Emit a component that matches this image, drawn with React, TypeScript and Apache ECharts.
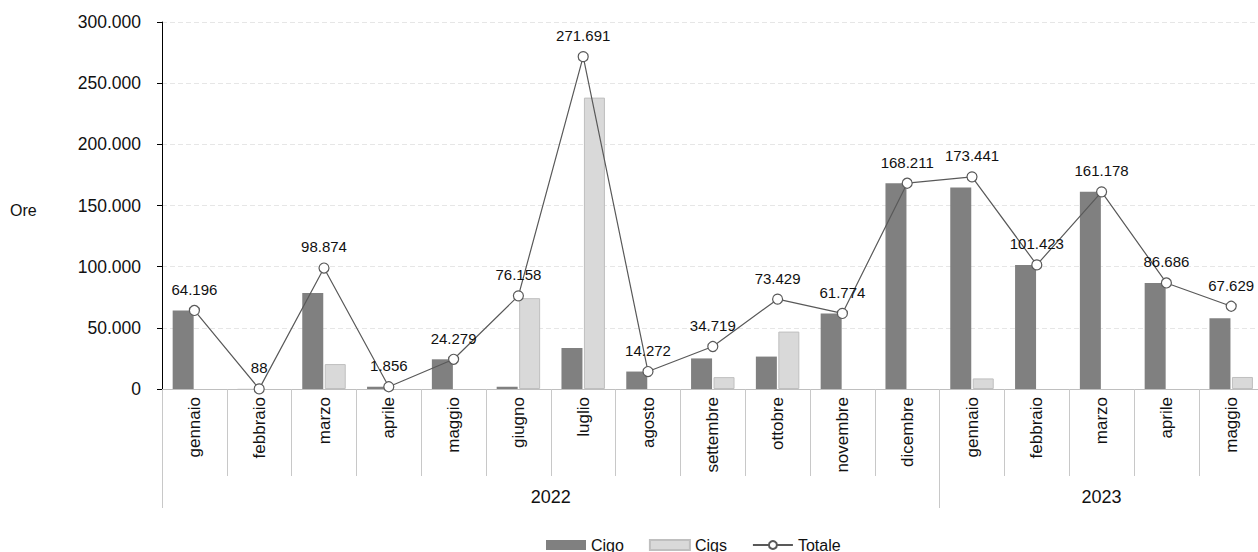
import React, { useEffect, useRef } from "react";
import * as echarts from "echarts";

const months = [
  "gennaio", "febbraio", "marzo", "aprile", "maggio", "giugno", "luglio", "agosto",
  "settembre", "ottobre", "novembre", "dicembre",
  "gennaio", "febbraio", "marzo", "aprile", "maggio",
];
const years = ["2022", "2023"];
const monthsPerYear = [12, 5];

const cigo = [64196, 88, 78500, 1856, 24279, 1900, 33500, 14272, 25000, 26500, 61774, 168211, 164800, 101423, 161178, 86686, 57800];
const cigs = [0, 0, 20374, 0, 0, 74258, 238191, 0, 9719, 46929, 0, 0, 8641, 0, 0, 0, 9829];
const totale = [64196, 88, 98874, 1856, 24279, 76158, 271691, 14272, 34719, 73429, 61774, 168211, 173441, 101423, 161178, 86686, 67629];

const yTicks = [0, 50000, 100000, 150000, 200000, 250000, 300000];

const FONT = "'Liberation Sans', Arial, sans-serif";
const fmt = (v: number) => String(Math.round(v)).replace(/\B(?=(\d{3})+(?!\d))/g, ".");

export default function App() {
  const ref = useRef<HTMLDivElement>(null);
  useEffect(() => {
    if (!ref.current) return;
    const chart = echarts.init(ref.current, null, { renderer: "svg" });

    const boundaries: number[] = [0];
    monthsPerYear.forEach((n) => boundaries.push(boundaries[boundaries.length - 1] + n));
    const centers = monthsPerYear.map((n, i) => boundaries[i] + n / 2);

    chart.setOption({
      animation: false,
      textStyle: { fontFamily: FONT },
      grid: { left: 162, top: 22, width: 1101.6, height: 367 },
      legend: {
        left: 541,
        top: 532,
        itemWidth: 40,
        itemHeight: 10,
        itemGap: 25,
        textStyle: { fontSize: 16, color: "#111", fontFamily: FONT },
        data: [
          { name: "Cigo", icon: "rect" },
          { name: "Cigs", icon: "rect" },
          { name: "Totale" },
        ],
      },
      graphic: [
        {
          type: "text",
          left: 10,
          top: 202,
          style: { text: "Ore", fontSize: 16, fill: "#111", fontFamily: FONT },
        },
      ],
      xAxis: [
        {
          type: "category",
          data: months,
          boundaryGap: true,
          axisLine: { show: true, lineStyle: { color: "#bfbfbf", width: 1 } },
          axisTick: { show: true, interval: 0, length: 87, lineStyle: { color: "#c8c8c8" } },
          axisLabel: {
            interval: 0,
            rotate: 90,
            margin: 8,
            fontSize: 17,
            color: "#111",
            fontFamily: FONT,
          },
        },
        {
          type: "value",
          position: "bottom",
          offset: 87,
          min: 0,
          max: months.length,
          axisLine: { show: false },
          splitLine: { show: false },
          axisTick: {
            show: true,
            length: 32,
            lineStyle: { color: "#c8c8c8" },
            customValues: boundaries,
          },
          axisLabel: {
            customValues: centers,
            formatter: (v: number) => {
              const i = centers.findIndex((c) => Math.abs(c - v) < 1e-6);
              return i >= 0 ? years[i] : "";
            },
            margin: 12,
            fontSize: 18,
            color: "#111",
            fontFamily: FONT,
          },
        },
      ],
      yAxis: {
        type: "value",
        min: yTicks[0],
        max: yTicks[yTicks.length - 1],
        interval: yTicks[1] - yTicks[0],
        axisLine: { show: true, lineStyle: { color: "#000", width: 1 } },
        axisTick: { show: true, length: 5, lineStyle: { color: "#000" } },
        axisLabel: {
          formatter: (v: number) => fmt(v),
          margin: 21,
          fontSize: 17.5,
          color: "#111",
          fontFamily: FONT,
        },
        splitLine: { show: true, lineStyle: { color: "#e6e6e6", type: [5, 3] } },
      },
      series: [
        {
          name: "Cigo",
          type: "bar",
          xAxisIndex: 0,
          data: cigo.map((v) => (v === 0 ? null : v)),
          barWidth: 21,
          barGap: "7%",
          itemStyle: { color: "#808080" },
        },
        {
          name: "Cigs",
          type: "bar",
          xAxisIndex: 0,
          data: cigs.map((v) => (v === 0 ? null : v)),
          barWidth: 21,
          barGap: "7%",
          itemStyle: { color: "#d9d9d9", borderColor: "#bfbfbf", borderWidth: 1 },
        },
        {
          name: "Totale",
          type: "line",
          xAxisIndex: 0,
          data: totale,
          symbol: "circle",
          symbolSize: 10,
          lineStyle: { color: "#595959", width: 1.2 },
          itemStyle: { color: "#ffffff", borderColor: "#595959", borderWidth: 1.2 },
          label: {
            show: true,
            position: "top",
            distance: 8,
            fontSize: 15,
            color: "#111",
            fontFamily: FONT,
            formatter: (p: any) => fmt(p.value),
          },
          z: 5,
        },
      ],
    });
    return () => chart.dispose();
  }, []);

  return (
    <div
      ref={ref}
      style={{ position: "fixed", left: 0, top: 0, width: 1272, height: 552, background: "#fff" }}
    />
  );
}
